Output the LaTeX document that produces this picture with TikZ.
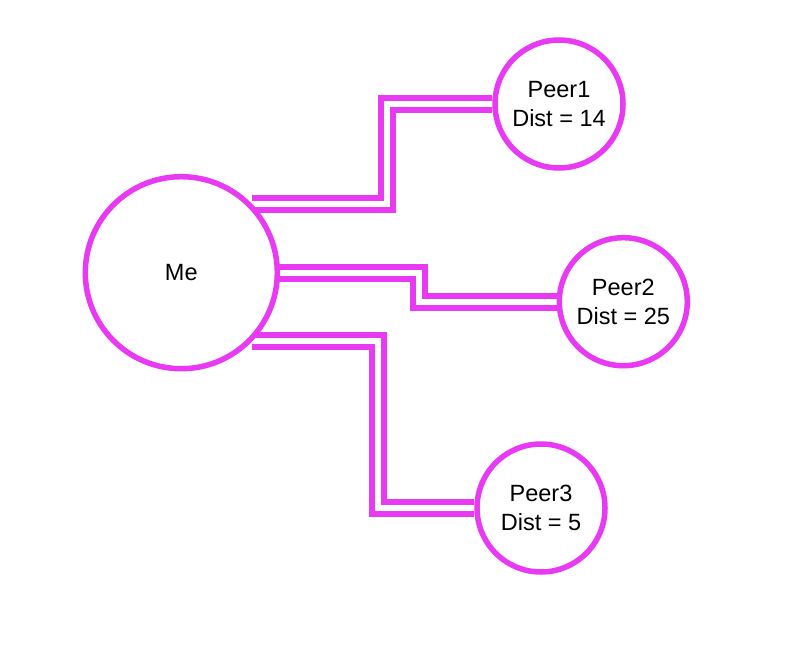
\documentclass[tikz,border=0pt]{standalone}
\usepackage{fontspec}
\setmainfont{Liberation Sans}
\usetikzlibrary{backgrounds}
\definecolor{linkpink}{HTML}{E83AF2}

\begin{document}
\begin{tikzpicture}[x=1pt,y=-1pt,line width=5.5pt,
  peer/.style={circle,draw=linkpink,fill=white,minimum size=128pt,inner sep=0pt,
    align=center,font=\fontsize{23.5pt}{28.5pt}\selectfont},
  link/.style={draw=linkpink,line width=6pt,double=white,double distance=6pt}]
\useasboundingbox (0,0) rectangle (792,666);
% ---------- nodes ----------
\node[peer,minimum size=192pt] (Me) at (181.3,272.7) {Me};
\node[peer] (Peer1) at (559,104) {Peer1\\Dist = 14};
\node[peer] (Peer2) at (623.3,301.7) {Peer2\\Dist = 25};
\node[peer] (Peer3) at (541,508) {Peer3\\Dist = 5};
% ---------- links (double lines, behind the circles) ----------
\coordinate (bend1) at (387,0);
\coordinate (bend2) at (419,0);
\coordinate (bend3) at (378,0);
\begin{scope}[on background layer]
\draw[link] (Me.44) -| (bend1 |- Peer1) -- (Peer1);
\draw[link] (Me.center) -| (bend2 |- Peer2) -- (Peer2);
\draw[link] (Me.-44) -| (bend3 |- Peer3) -- (Peer3);
\end{scope}
\end{tikzpicture}
\end{document}
